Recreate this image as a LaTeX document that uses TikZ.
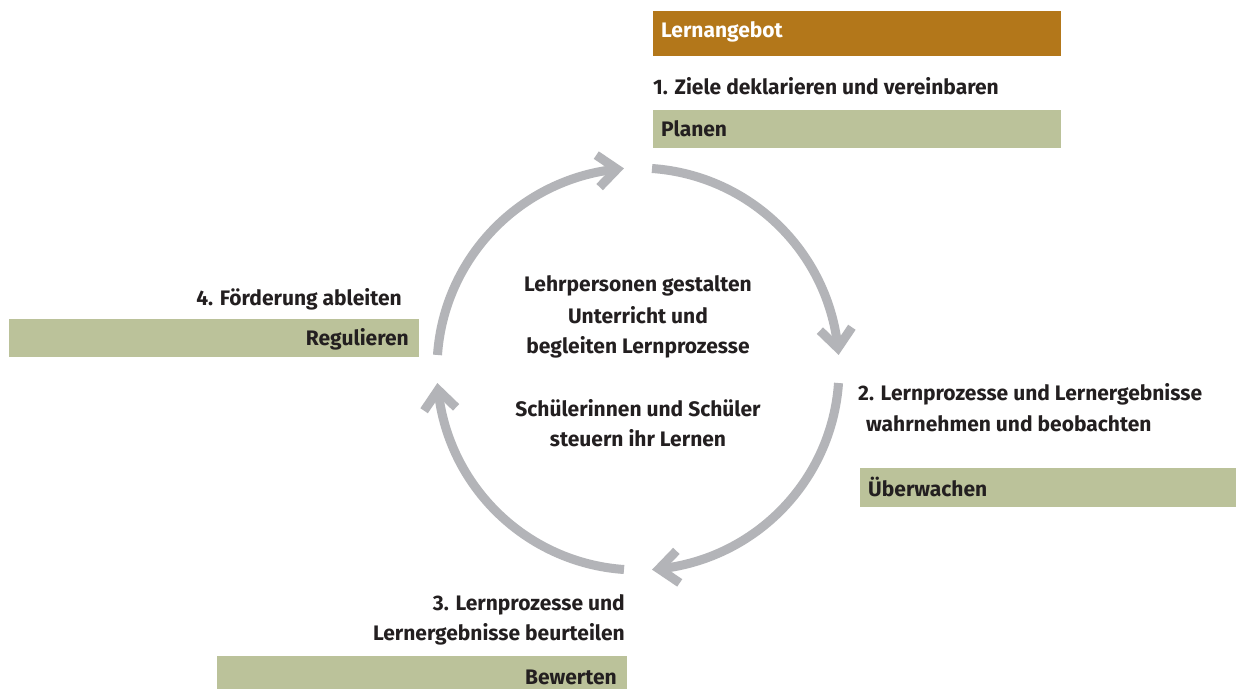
\documentclass[tikz,border=0pt]{standalone}
\usepackage{fontspec}
\setmainfont{Fira Sans}
\usetikzlibrary{calc}
\definecolor{arcgray}{RGB}{179,180,184}
\definecolor{boxgreen}{RGB}{187,194,154}
\definecolor{boxbrown}{RGB}{179,119,26}
\definecolor{txt}{RGB}{35,31,32}
\begin{document}
\begin{tikzpicture}[x=1pt,y=1pt,
  lbl/.style={inner sep=0pt, font=\fontsize{21}{25}\selectfont\bfseries, text=txt},
  boxg/.style={fill=boxgreen, draw=none, inner sep=0pt, anchor=south west},
  cyc/.style={draw=arcgray, line width=9pt},
  chev/.style={draw=arcgray, line width=9pt, miter limit=10, line join=miter}]
\fill[white] (0,0) rectangle (1236,689);
\useasboundingbox (0,0) rectangle (1236,689);

% boxes
\node[boxg, fill=boxbrown, minimum width=408pt, minimum height=45pt] (lernbox) at (653,633) {};
\node[boxg, minimum width=408pt, minimum height=38pt] (planbox) at (653,541) {};
\node[boxg, minimum width=410pt, minimum height=38pt] (regbox) at (9,332) {};
\node[boxg, minimum width=376pt, minimum height=39pt] (uebbox) at (860,182) {};
\node[boxg, minimum width=410pt, minimum height=33pt] (bewbox) at (217,0) {};

% texts
\node[lbl, text=white, anchor=base west] (lern) at (661,651) {Lernangebot};
\node[lbl, anchor=base west] (ziele) at (653,594) {1. Ziele deklarieren und vereinbaren};
\node[lbl, anchor=base west] (planen) at (661,552) {Planen};
\node[lbl, anchor=base east] (foerd) at (402,384) {4. Förderung ableiten};
\node[lbl, anchor=base east] (regul) at (409,344) {Regulieren};
\node[lbl, anchor=base west] (wahr1) at (858,289) {2. Lernprozesse und Lernergebnisse};
\node[lbl, anchor=base west] (wahr2) at (866,258) {wahrnehmen und beobachten};
\node[lbl, anchor=base west] (ueber) at (868,193) {Überwachen};
\node[lbl, anchor=base east] (beur1) at (625,79) {3. Lernprozesse und};
\node[lbl, anchor=base east] (beur2) at (625,49) {Lernergebnisse beurteilen};
\node[lbl, anchor=base east] (bewert) at (617,5) {Bewerten};
\node[lbl, anchor=base] (c1) at (638,397) {Lehrpersonen gestalten};
\node[lbl, anchor=base] (c2) at (638,366) {Unterricht und};
\node[lbl, anchor=base] (c3) at (638,336) {begleiten Lernprozesse};
\node[lbl, anchor=base] (c4) at (638,273) {Schülerinnen und Schüler};
\node[lbl, anchor=base] (c5) at (638,243) {steuern ihr Lernen};

% cycle
\coordinate (C) at (638,320);
\def\R{201}
\draw[cyc] ($(C)+(86:\R)$) arc[start angle=86, end angle=6, radius=\R];
\coordinate (P1) at ($(C)+(6:\R)$);
\draw[chev] ($(P1)+(56:25)$) -- (P1) -- ($(P1)+(136:25)$);

\draw[cyc] ($(C)+(-4:\R)$) arc[start angle=-4, end angle=-84, radius=\R];
\coordinate (P2) at ($(C)+(-84:\R)$);
\draw[chev] ($(P2)+(-34:25)$) -- (P2) -- ($(P2)+(46:25)$);

\draw[cyc] ($(C)+(-94:\R)$) arc[start angle=-94, end angle=-174, radius=\R];
\coordinate (P3) at ($(C)+(-174:\R)$);
\draw[chev] ($(P3)+(-124:25)$) -- (P3) -- ($(P3)+(-44:25)$);

\draw[cyc] ($(C)+(176:\R)$) arc[start angle=176, end angle=96, radius=\R];
\coordinate (P4) at ($(C)+(96:\R)$);
\draw[chev] ($(P4)+(146:25)$) -- (P4) -- ($(P4)+(226:25)$);
\end{tikzpicture}
\end{document}
